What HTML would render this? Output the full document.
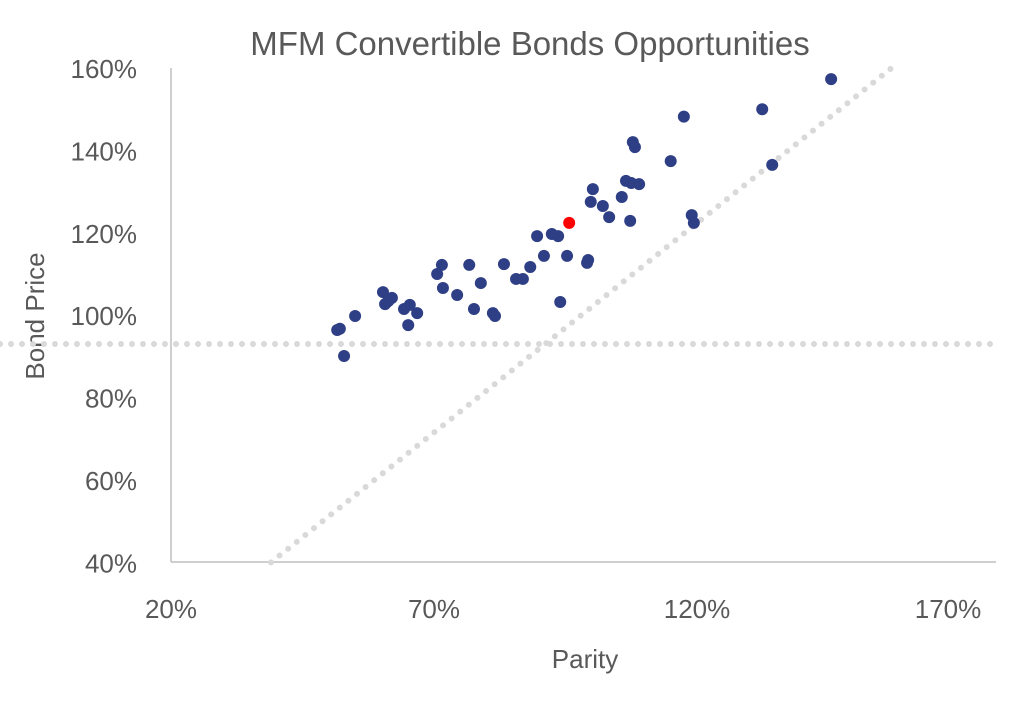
<!DOCTYPE html>
<html><head><meta charset="utf-8"><style>
body{margin:0;background:#fff;}
svg{display:block;font-family:"Liberation Sans",sans-serif;}
</style></head><body>
<svg id="chart" width="1024" height="702" viewBox="0 0 1024 702">
<text x="530" y="55" text-anchor="middle" font-size="33" fill="#595959">MFM Convertible  Bonds Opportunities</text>
<text transform="translate(44,316) rotate(-90)" text-anchor="middle" font-size="26" fill="#595959">Bond Price</text>
<text x="585" y="668" text-anchor="middle" font-size="26" fill="#595959">Parity</text>
<g id="grid"></g><g id="marks"></g>
</svg>
<script>
const xTicks=[20,70,120,170];
const yTicks=[40,60,80,100,120,140,160];
const parity=[145.5,132.4,117.5,107.8,108.2,115,134.3,100.2,106.5,107.5,109,105.7,102.1,99.8,103.3,107.3,119,119.4,89.6,92.4,93.6,90.9,95.3,99.3,99.1,88.3,83.3,85.6,86.9,78.9,76.7,71.5,70.6,71.7,74.4,77.6,81.2,81.6,94,60.3,62,61.3,60.7,64.3,65.4,66.8,65.1,55,52.1,51.6,52.9];
const price=[157.3,150,148.2,142,140.8,137.4,136.5,130.6,132.6,132.1,131.8,128.7,126.5,127.5,123.8,122.9,124.3,122.4,119.2,119.7,119.2,114.4,114.4,113.4,112.7,111.7,112.4,108.8,108.8,107.8,112.2,112.2,110,106.6,104.9,101.5,100.5,99.8,103.2,105.6,104.2,103.4,102.7,101.5,102.5,100.5,97.6,99.8,96.7,96.4,90.1];
const highlight=[95.7,122.4];
const floorLevel=93;
const diagonal=[[39,40],[157,160]];
const NS='http://www.w3.org/2000/svg';
const X=v=>171+(v-20)*5.26, Y=v=>68+(160-v)*4.12;
const grid=document.getElementById('grid'), marks=document.getElementById('marks');
function mk(tag,attrs,parent){const e=document.createElementNS(NS,tag);for(const k in attrs)e.setAttribute(k,attrs[k]);parent.appendChild(e);return e;}
let e=mk('line',{x1:171,y1:68,x2:171,y2:562,stroke:'#bfbfbf','stroke-width':1.5},grid);


e=mk('line',{x1:171,y1:562,x2:996,y2:562,stroke:'#bfbfbf','stroke-width':1.5},grid);


yTicks.forEach(t=>{const el=mk('text',{x:137,y:Y(t)+10,'text-anchor':'end','font-size':26,fill:'#595959'},grid);el.textContent=t+'%';

});
xTicks.forEach(t=>{const el=mk('text',{x:X(t)-(t==170?12:0),y:618,'text-anchor':'middle','font-size':26,fill:'#595959'},grid);el.textContent=t+'%';

});
e=mk('line',{x1:0,y1:Y(floorLevel),x2:1000,y2:Y(floorLevel),stroke:'#d9d9d9','stroke-width':6,'stroke-linecap':'round','stroke-dasharray':'0 11'},marks);


e=mk('line',{x1:X(diagonal[0][0]),y1:Y(diagonal[0][1]),x2:X(diagonal[1][0]),y2:Y(diagonal[1][1]),stroke:'#d9d9d9','stroke-width':6,'stroke-linecap':'round','stroke-dasharray':'0 11'},marks);


parity.forEach((p,i)=>{const c=mk('circle',{cx:X(p),cy:Y(price[i]),r:6,fill:'#2f3f86'},marks);

});
e=mk('circle',{cx:X(highlight[0]),cy:Y(highlight[1]),r:6,fill:'#ff0000'},marks);


</script>
</body></html>
